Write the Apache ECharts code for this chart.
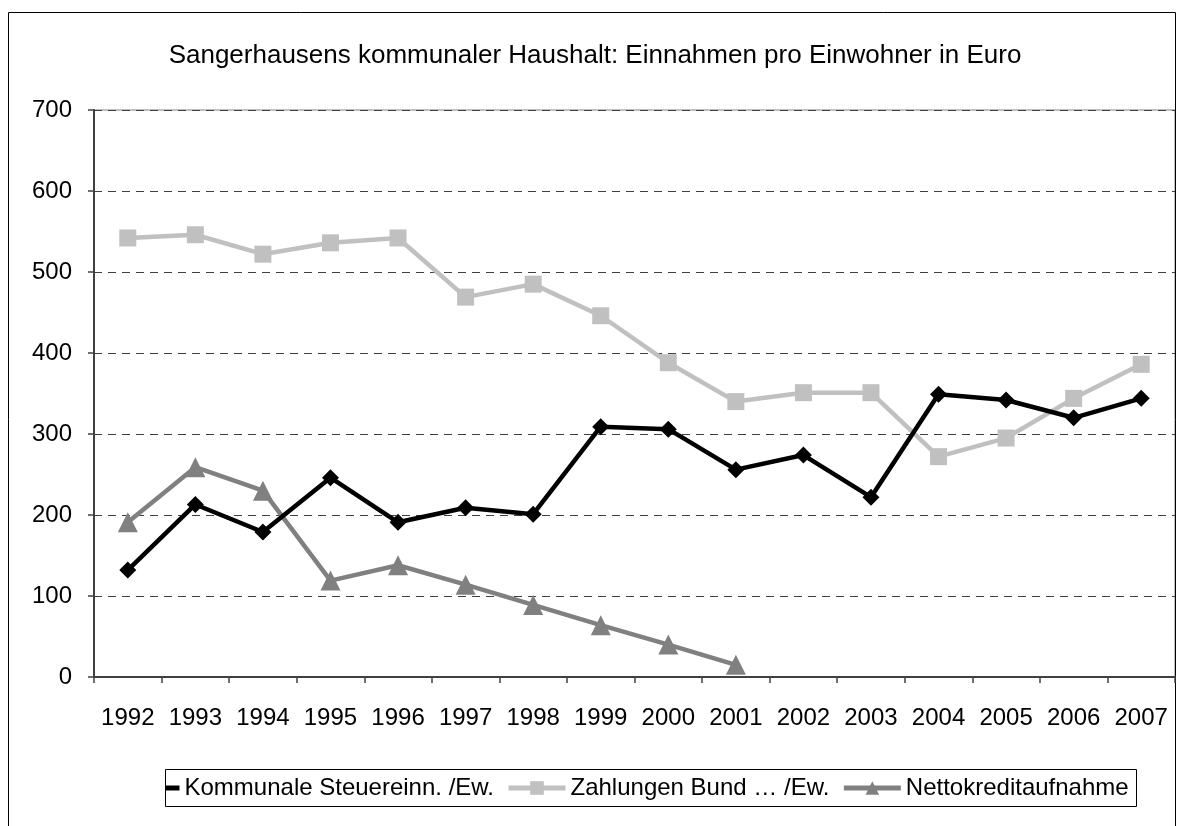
<!DOCTYPE html>
<html lang="de">
<head>
  <meta charset="UTF-8">
  <title>Sangerhausen Haushalt</title>
  <script src="https://cdn.jsdelivr.net/npm/echarts@6/dist/echarts.min.js"></script>
  <style>
    html, body { margin: 0; padding: 0; background: #fff; }
    #chart { width: 1190px; height: 826px; }
  </style>
</head>
<body>
  <div id="chart"></div>
  <script>
    // Daten
    const jahre = ['1992','1993','1994','1995','1996','1997','1998','1999','2000','2001','2002','2003','2004','2005','2006','2007'];
    const steuer = [132, 213, 179, 246, 191, 209, 201, 309, 306, 256, 274, 222, 349, 342, 320, 344];
    const bund = [542, 546, 522, 536, 542, 469, 485, 446, 388, 340, 351, 351, 272, 295, 344, 386];
    const kredit = [191, 259, 230, 119, 138, 114, 89, 64, 40, 15, null, null, null, null, null, null];
    const yTicks = [0, 100, 200, 300, 400, 500, 600, 700];

    const chart = echarts.init(document.getElementById('chart'));
    const font = 'Liberation Sans, Arial, sans-serif';

    chart.setOption({
      animation: false,
      backgroundColor: '#fff',
      textStyle: { fontFamily: font },
      graphic: [
        {
          // Rahmen um das ganze Diagramm
          type: 'rect',
          shape: { x: 8.5, y: 12.5, width: 1167, height: 830 },
          style: { fill: 'none', stroke: '#000', lineWidth: 1 },
          silent: true
        },
        {
          // links abgeschnittenes erstes Legendensymbol wie im Original
          type: 'rect',
          z: 100,
          shape: { x: 100, y: 765, width: 66, height: 46 },
          style: { fill: '#fff' },
          silent: true
        },
        {
          // Legendenrahmen
          type: 'rect',
          z: 101,
          shape: { x: 165.5, y: 769.5, width: 971, height: 37 },
          style: { fill: 'none', stroke: '#000', lineWidth: 1 },
          silent: true
        }
      ],
      title: {
        text: 'Sangerhausens kommunaler Haushalt: Einnahmen pro Einwohner in Euro',
        left: 'center',
        top: 38,
        textStyle: { fontFamily: font, fontSize: 26, fontWeight: 'normal', color: '#000' }
      },
      grid: { left: 94, right: 15, top: 110, bottom: 149, show: true, borderColor: '#808080', borderWidth: 1 },
      xAxis: {
        type: 'category',
        data: jahre,
        boundaryGap: true,
        axisLine: { lineStyle: { color: '#404040', width: 2 } },
        axisTick: { show: true, interval: 0, alignWithLabel: false, length: 6, lineStyle: { color: '#404040', width: 1.5 } },
        axisLabel: { interval: 0, color: '#000', fontSize: 24, fontFamily: font, margin: 29 }
      },
      yAxis: {
        type: 'value',
        min: 0,
        max: yTicks[yTicks.length - 1],
        interval: 100,
        axisLine: { show: true, lineStyle: { color: '#404040', width: 2 } },
        axisTick: { show: true, length: 6, lineStyle: { color: '#404040', width: 1.5 } },
        axisLabel: { color: '#000', fontSize: 24, fontFamily: font, margin: 22 },
        splitLine: { lineStyle: { color: '#404040', type: [8, 6], width: 1 } }
      },
      legend: {
        top: 776,
        left: 120,
        itemWidth: 57,
        itemHeight: 17,
        itemGap: 12,
        padding: 0,
        lineStyle: { width: 5 },
        textStyle: { fontSize: 24, fontFamily: font, color: '#000' },
        data: ['Kommunale Steuereinn. /Ew.', 'Zahlungen Bund … /Ew.', 'Nettokreditaufnahme']
      },
      series: [
        {
          name: 'Kommunale Steuereinn. /Ew.',
          type: 'line',
          data: steuer,
          symbol: 'diamond',
          symbolSize: 17,
          itemStyle: { color: '#000' },
          lineStyle: { color: '#000', width: 4.5 },
          z: 4
        },
        {
          name: 'Zahlungen Bund … /Ew.',
          type: 'line',
          data: bund,
          symbol: 'rect',
          symbolSize: 17,
          itemStyle: { color: '#c0c0c0' },
          lineStyle: { color: '#c0c0c0', width: 4.5 },
          z: 3
        },
        {
          name: 'Nettokreditaufnahme',
          type: 'line',
          data: kredit,
          symbol: 'triangle',
          symbolSize: 20,
          itemStyle: { color: '#808080' },
          lineStyle: { color: '#808080', width: 4.5 },
          z: 2
        }
      ]
    });
  </script>
</body>
</html>
